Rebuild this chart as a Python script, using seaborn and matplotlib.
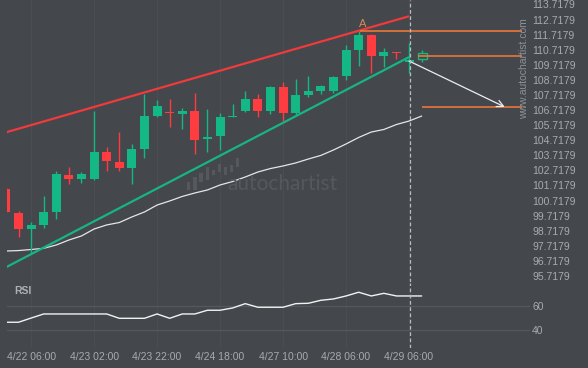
import numpy as np
import pandas as pd
import seaborn as sns
import matplotlib.pyplot as plt
from matplotlib.patches import Rectangle

# 4h candles, index 0 = first (partly clipped) candle
OPEN = [101.49, 99.87, 98.83, 99.10, 99.98, 102.41, 102.15, 102.15, 103.94, 103.27,
        102.90, 104.16, 106.34, 106.59, 106.48, 106.66, 104.78, 105.02, 106.24, 106.66,
        107.45, 106.66, 108.25, 106.54, 107.72, 107.98, 107.98, 108.99, 110.72, 111.72,
        110.32, 110.57, 109.88]
HIGH = [101.60, 100.03, 99.32, 101.02, 102.66, 102.92, 102.61, 106.66, 104.27, 105.24,
        104.47, 107.78, 107.39, 107.43, 106.86, 107.83, 106.79, 106.50, 107.10, 107.96,
        107.76, 108.31, 108.58, 108.78, 108.98, 108.40, 108.98, 111.03, 111.94, 111.78,
        110.81, 110.57, 111.15]
LOW = [99.90, 98.32, 97.17, 98.92, 99.47, 101.80, 101.90, 102.08, 102.70, 102.66,
       101.80, 103.52, 106.28, 105.61, 105.44, 103.79, 103.92, 104.09, 106.24, 106.61,
       106.24, 106.48, 105.99, 106.39, 107.60, 107.80, 107.85, 108.69, 109.62, 109.15,
       109.59, 110.08, 109.19]
CLOSE = [99.96, 98.83, 99.10, 99.98, 102.48, 102.15, 102.48, 103.94, 103.34, 102.90,
         104.14, 106.33, 107.00, 106.52, 106.66, 104.75, 104.95, 106.26, 106.33, 107.45,
         106.66, 108.25, 106.54, 107.72, 107.98, 108.31, 108.91, 110.70, 111.70, 110.32,
         110.57, 110.48, 110.04]

# moving average (one value per candle, incl. the forecast candle)
MA = [97.37, 97.40, 97.47, 97.55, 97.77, 98.10, 98.37, 98.83, 99.10, 99.26,
      99.63, 99.96, 100.42, 100.69, 100.99, 101.22, 101.42, 101.75, 101.98, 102.28,
      102.61, 102.84, 103.01, 103.21, 103.47, 103.71, 104.07, 104.47, 104.90, 105.26,
      105.43, 105.76, 105.99, 106.32]

RSI = [46.7, 46.7, 50.2, 53.6, 53.6, 53.6, 53.6, 53.6, 53.6, 50.0,
       50.0, 50.0, 53.6, 50.0, 53.6, 53.6, 56.7, 56.7, 58.6, 62.2,
       59.2, 59.2, 59.2, 62.2, 62.5, 65.0, 66.1, 68.6, 71.7, 68.6,
       70.8, 68.6, 68.6, 68.6]

# forecast candle (hollow): index, open, high, low, close
FORECAST = (33.05, 110.09, 110.70, 109.90, 110.50)

# channel lines: (x0, y0, x1, y1) in candle index / price
RESISTANCE = (0, 105.24, 32, 112.94)
SUPPORT = (0, 96.29, 32, 110.23)

# horizontal levels: (x_start, x_end, price)
LEVELS = [(28.1, 41.0, 111.97), (32.7, 41.0, 110.28), (33.0, 41.0, 106.90)]
PATTERN_POINT = (28.3, 112.08, "A")

ARROW_FROM = (32.0, 109.97)
ARROW_TO = (39.6, 106.92)
NOW_IDX = 32.08

PRICE_TICKS = [95.7179 + i for i in range(19)]
RSI_TICKS = [40, 60]
TIME_IDX = [2, 7, 12, 17, 22, 27, 32]
TIME_LABELS = ["4/22 06:00", "4/23 02:00", "4/23 22:00", "4/24 18:00",
               "4/27 10:00", "4/28 06:00", "4/29 06:00"]

# watermark logo bars (x0, x1, y_bottom, y_top) in logo units
LOGO_BARS = [(0, 3, 0, 8), (6, 10, 0, 13), (12, 16, 8, 17), (19, 22, 10, 23),
             (25, 28, 15, 20), (31, 34, 18, 26), (37, 40, 15, 23), (43, 46, 18, 25),
             (49, 52, 23, 32)]

BG = "#44474c"
GREEN = "#14b884"
RED = "#ff3c3f"
ORANGE = "#f97a35"
TICK = "#a7aaae"
WATERMARK = "#55595e"

sns.set_theme(style="dark", rc={"axes.facecolor": BG, "figure.facecolor": BG})
plt.rcParams["font.family"] = ["Liberation Sans", "DejaVu Sans"]

fig = plt.figure(figsize=(5.88, 3.68), dpi=100)
ax = fig.add_axes([7 / 588, 1 - 282 / 368, 523 / 588, 282 / 368])
ax_rsi = fig.add_axes([7 / 588, 1 - 348 / 368, 523 / 588, 65 / 368], sharex=ax)

XLIM = (0.087, 41.6)

# faint verticals at the time labels
for a in (ax, ax_rsi):
    a.set_facecolor(BG)
    for s in a.spines.values():
        s.set_visible(False)
    for t in TIME_IDX:
        a.axvline(t, color="#4a4d52", lw=0.8, zorder=0)

# candles
idx = np.arange(len(OPEN))
df = pd.DataFrame({"o": OPEN, "h": HIGH, "l": LOW, "c": CLOSE}, index=idx)
colors = np.where(df["c"] >= df["o"], GREEN, RED)
ax.vlines(idx, df["l"], df["h"], colors=colors, lw=1, zorder=3)
body_lo = np.minimum(df["o"], df["c"])
body_h = np.maximum((df["c"] - df["o"]).abs(), 0.09)
ax.bar(idx, body_h, bottom=body_lo, width=0.72, color=colors, zorder=4, linewidth=0)

fx, fo, fh, fl, fc = FORECAST
ax.vlines(fx, fl, fh, colors=GREEN, lw=1, zorder=3)
ax.add_patch(Rectangle((fx - 0.36, fo), 0.72, fc - fo, facecolor=BG,
                       edgecolor=GREEN, lw=1, zorder=4))

# channel
ax.plot([RESISTANCE[0], RESISTANCE[2]], [RESISTANCE[1], RESISTANCE[3]],
        color="#f03a3b", lw=1.6, zorder=5, solid_capstyle="butt")
ax.plot([SUPPORT[0], SUPPORT[2]], [SUPPORT[1], SUPPORT[3]],
        color="#17b486", lw=1.6, zorder=5, solid_capstyle="butt")

# moving average
sns.lineplot(x=np.arange(len(MA)), y=MA, ax=ax, color="#e6e6e6", lw=0.9, zorder=2)

# levels
for x0, x1, p in LEVELS:
    ax.hlines(p, x0, x1, color=ORANGE, lw=1.1, zorder=5)
ax.text(PATTERN_POINT[0], PATTERN_POINT[1], PATTERN_POINT[2], color="#d98a55",
        fontsize=8, ha="center", va="bottom")

ax.annotate("", xy=ARROW_TO, xytext=ARROW_FROM,
            arrowprops=dict(arrowstyle="->", color="#eeeeee", lw=0.9,
                            mutation_scale=12, shrinkA=0, shrinkB=0), zorder=6)

ax.axvline(NOW_IDX, color="#b9bcc0", lw=0.9, ls=(0, (3, 2)), zorder=6)
ax_rsi.axvline(NOW_IDX, color="#b9bcc0", lw=0.9, ls=(0, (3, 2)), zorder=6)

ax.set_xlim(*XLIM)
ax.set_ylim(95.316, 114.016)
ax.yaxis.tick_right()
ax.set_yticks(PRICE_TICKS)
ax.set_yticklabels([f"{v:.4f}" for v in PRICE_TICKS])
ax.tick_params(axis="y", length=0, pad=1.5, labelsize=7.5, labelcolor=TICK)
ax.tick_params(axis="x", length=0, labelbottom=False)
ax.set_xlabel("")
ax.set_ylabel("")

# watermark
fig.text(524 / 588, 1 - 69 / 368, "www.autochartist.com", rotation=90,
         color="#8e9196", fontsize=7.5, ha="center", va="center")
fig.text(282 / 588, 1 - 184 / 368, "autochartist", color=WATERMARK,
         fontsize=15, ha="center", va="center", family=["Lato", "DejaVu Sans"])
logo = fig.add_axes([187 / 588, 1 - 190 / 368, 53 / 588, 32 / 368])
logo.set_axis_off()
for x0, x1, y0, y1 in LOGO_BARS:
    logo.add_patch(Rectangle((x0, y0), x1 - x0, y1 - y0, color=WATERMARK, lw=0))
logo.set_xlim(0, 53)
logo.set_ylim(0, 32)

# RSI panel
for v in RSI_TICKS:
    ax_rsi.axhline(v, color="#55585d", lw=0.9, zorder=1)
sns.lineplot(x=np.arange(len(RSI)), y=RSI, ax=ax_rsi, color="#f2f2f2", lw=1.0, zorder=3)
ax_rsi.set_ylim(25.25, 79.4)
ax_rsi.yaxis.tick_right()
ax_rsi.set_yticks(RSI_TICKS)
ax_rsi.tick_params(axis="y", length=0, pad=1.5, labelsize=7.5, labelcolor=TICK)
ax_rsi.set_xticks(TIME_IDX)
ax_rsi.set_xticklabels(TIME_LABELS)
ax_rsi.tick_params(axis="x", length=0, pad=3, labelsize=7.5, labelcolor=TICK)
ax_rsi.set_xlim(*XLIM)
ax_rsi.set_xlabel("")
ax_rsi.set_ylabel("")
ax_rsi.text(7 / 523, 0.877, "RSI", transform=ax_rsi.transAxes, color="#aeb1b6",
            fontsize=7.5, fontweight="bold", va="center", ha="left")

fig.savefig("out.png", dpi=100, facecolor=BG)
